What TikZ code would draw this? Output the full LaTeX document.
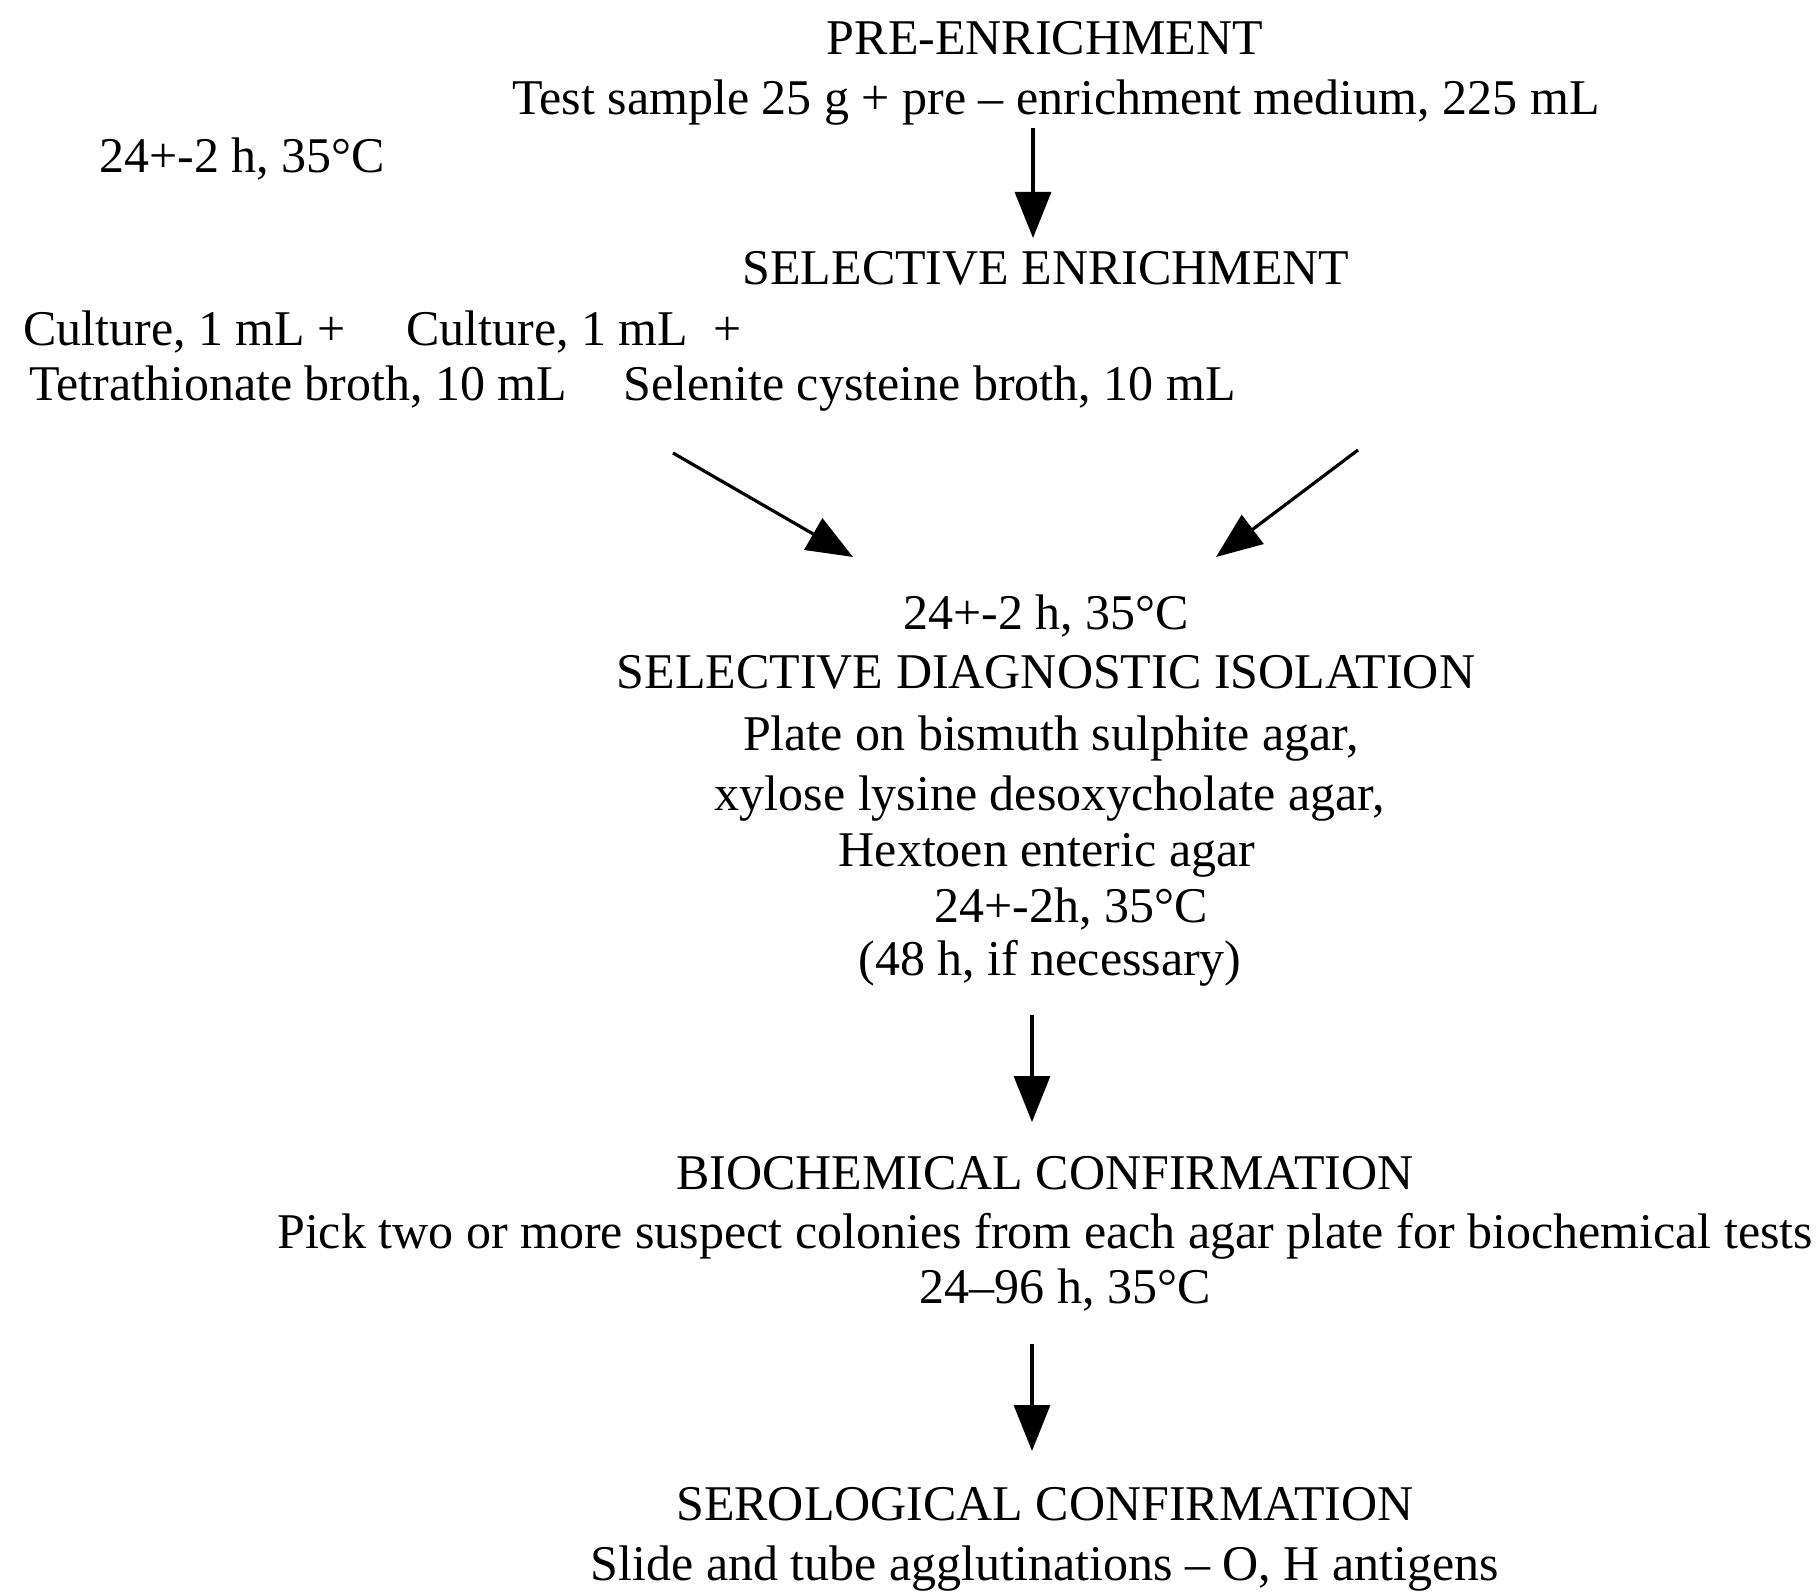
\documentclass[tikz,border=0pt]{standalone}
\usepackage{fontspec}
\setmainfont{Liberation Serif}
\usetikzlibrary{arrows.meta}
\begin{document}
\begin{tikzpicture}[x=1pt,y=-1pt,
  txt/.style={anchor=base,inner sep=0pt,font=\fontsize{50}{60}\selectfont},
  ltxt/.style={txt,anchor=base west},
  flow/.style={line width=3.2pt,-{Triangle[length=46pt,width=36pt]}}]
\useasboundingbox (0,0) rectangle (1820,1594);

% pre-enrichment
\node[txt] (pre) at (1045,55) {PRE-ENRICHMENT};
\node[txt] (test) at (1056,115) {Test sample 25 g + pre – enrichment medium, 225 mL};
\node[ltxt] (inc1) at (99,173) {24+-2 h, 35°C};

% selective enrichment
\node[txt] (selenr) at (1046,285) {SELECTIVE ENRICHMENT};
\node[ltxt] (cultA) at (23,345) {Culture, 1 mL +};
\node[ltxt] (cultB) at (406,345) {Culture, 1 mL\ \ +};
\node[ltxt] (brothA) at (29,400) {Tetrathionate broth, 10 mL};
\node[ltxt] (brothB) at (623,400) {Selenite cysteine broth, 10 mL};

% selective diagnostic isolation
\node[txt] (inc2) at (1046,629) {24+-2 h, 35°C};
\node[txt] (sdi) at (1046,688) {SELECTIVE DIAGNOSTIC ISOLATION};
\node[txt] (plate) at (1051,750) {Plate on bismuth sulphite agar,};
\node[txt] (xld) at (1050,810) {xylose lysine desoxycholate agar,};
\node[txt] (he) at (1047,866) {Hextoen enteric agar};
\node[txt] (inc3) at (1071,922) {24+-2h, 35°C};
\node[txt] (extra) at (1050,975) {(48 h, if necessary)};

% biochemical confirmation
\node[txt] (bio) at (1045,1189) {BIOCHEMICAL CONFIRMATION};
\node[txt] (pick) at (1045,1248) {Pick two or more suspect colonies from each agar plate for biochemical tests};
\node[txt] (inc4) at (1065,1303) {24–96 h, 35°C};

% serological confirmation
\node[txt] (sero) at (1045,1520) {SEROLOGICAL CONFIRMATION};
\node[txt] (slide) at (1045,1580) {Slide and tube agglutinations – O, H antigens};

% arrow end points
\coordinate (p1) at (1033,128);  \coordinate (q1) at (1033,238);
\coordinate (p2) at (673,453);   \coordinate (q2) at (853,557);
\coordinate (p3) at (1358,450);  \coordinate (q3) at (1216,557);
\coordinate (p4) at (1032,1015); \coordinate (q4) at (1032,1122);
\coordinate (p5) at (1032,1344); \coordinate (q5) at (1032,1451);

\draw[flow] (p1) -- (q1);
\draw[flow] (p2) -- (q2);
\draw[flow] (p3) -- (q3);
\draw[flow] (p4) -- (q4);
\draw[flow] (p5) -- (q5);
\end{tikzpicture}
\end{document}
